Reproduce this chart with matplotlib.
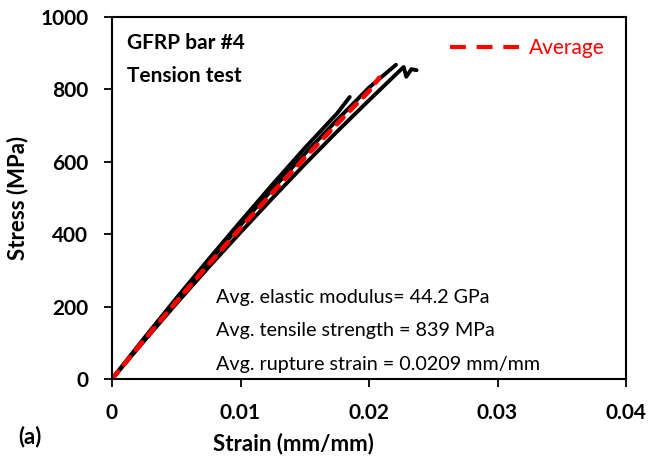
import matplotlib.pyplot as plt
from matplotlib.lines import Line2D

plt.rcParams['font.family'] = ['Lato', 'DejaVu Sans']

# specimen curves (strain, stress)
strain_a = [0, 0.0025, 0.005, 0.0075, 0.010, 0.0125, 0.015, 0.0175, 0.0185]
stress_a = [0, 113, 223, 330, 435, 538, 638, 733, 779]
strain_b = [0, 0.0025, 0.005, 0.0075, 0.010, 0.0125, 0.015, 0.0175, 0.020, 0.0221]
stress_b = [0, 110, 218, 323, 425, 525, 622, 715, 805, 868]
strain_c = [0, 0.0025, 0.005, 0.0075, 0.010, 0.0125, 0.015, 0.0175, 0.020, 0.0227,
            0.0229, 0.0233, 0.0237]
stress_c = [0, 105, 208, 308, 405, 500, 593, 683, 770, 862, 835, 856, 853]
# average curve
strain_avg = [0, 0.0025, 0.005, 0.0075, 0.010, 0.0125, 0.015, 0.0175, 0.020, 0.0208]
stress_avg = [0, 108, 213, 316, 417, 515, 611, 704, 795, 832]

fig = plt.figure(figsize=(6.53, 4.65), dpi=100)
ax = fig.add_axes([112/653, 1-379/465, 514/653, 362/465])

for sx, sy in [(strain_a, stress_a), (strain_b, stress_b), (strain_c, stress_c)]:
    ax.plot(sx, sy, color='black', lw=2.8, solid_capstyle='round', solid_joinstyle='round')
ax.plot(strain_avg, stress_avg, color='red', lw=3.4, dashes=(2.0, 2.0), dash_capstyle='round')

ax.set_xlim(0, 0.04)
ax.set_ylim(0, 1000)
ax.set_xticks([0, 0.01, 0.02, 0.03, 0.04])
ax.set_xticklabels(['0', '0.01', '0.02', '0.03', '0.04'])
ax.set_yticks([0, 200, 400, 600, 800, 1000])
ax.tick_params(direction='out', length=6, width=1.3, labelsize=15, pad=11)
for lab in ax.get_xticklabels() + ax.get_yticklabels():
    lab.set_fontweight('bold')
for s in ax.spines.values():
    s.set_linewidth(1.5)

ax.set_xlabel('Strain (mm/mm)', fontsize=16, fontweight='bold')
ax.xaxis.set_label_coords((293-112)/514, -(433-379)/362)
ax.set_ylabel('Stress (MPa)', fontsize=16, fontweight='bold')
ax.yaxis.set_label_coords(-(112-28)/514, 0.5)

fig.text(18/653, 1-437/465, '(a)', fontsize=16, fontweight='bold', va='center')
fig.text(127/653, 1-43/465, 'GFRP bar #4', fontsize=15, fontweight='bold', va='center')
fig.text(127/653, 1-76/465, 'Tension test', fontsize=15, fontweight='bold', va='center')

avg_handle = Line2D([], [], color='red', lw=3, dashes=(3.8, 2.6))
leg = ax.legend([avg_handle], ['Average'], loc='upper right', frameon=False,
                fontsize=15, handlelength=3.3, borderaxespad=0.7, handletextpad=0.5,
                borderpad=0.3)
for t in leg.get_texts():
    t.set_color('red')

notes = ['Avg. elastic modulus= 44.2 GPa',
         'Avg. tensile strength = 839 MPa',
         'Avg. rupture strain = 0.0209 mm/mm']
for i, n in enumerate(notes):
    fig.text(216/653, 1-(297+33.5*i)/465, n, fontsize=14.2, va='center')

fig.savefig('out.png', dpi=100)
